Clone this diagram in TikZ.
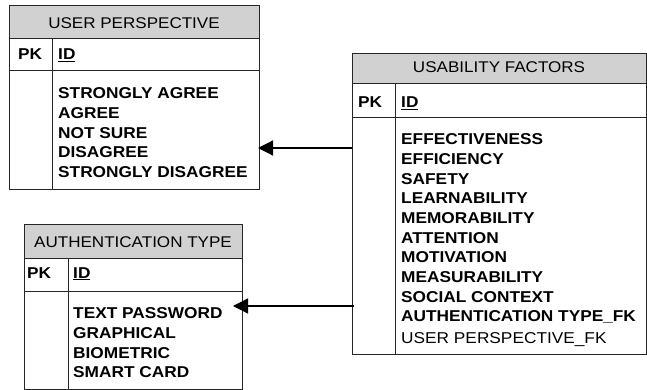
\documentclass[tikz,border=0pt]{standalone}
\usepackage{fontspec}
\setmainfont{Liberation Sans}[FakeStretch=1.1]
\usetikzlibrary{arrows.meta}
\tikzset{
  ent/.style={draw=black!85, line width=0.9pt, anchor=north west, inner sep=0pt},
  hdr/.style={draw=black!85, line width=0.9pt, fill=black!18},
  sep/.style={draw=black!85, line width=0.9pt},
  htext/.style={font=\fontsize{15.5}{18}\selectfont, anchor=base, inner sep=0pt},
  rtext/.style={font=\fontsize{15.7}{19.7}\selectfont\bfseries, anchor=base west, inner sep=0pt, align=left},
  ftext/.style={font=\fontsize{15.7}{19.7}\selectfont, anchor=base west, inner sep=0pt},
  rel/.style={line width=1.2pt, -{Triangle[length=15pt,width=15pt]}}
}
\begin{document}
\begin{tikzpicture}[x=1pt,y=-1pt]
\useasboundingbox (0,0) rectangle (647,390);
% USER PERSPECTIVE
\node[ent, minimum width=250pt, minimum height=184pt] (up) at (9,5) {};
\path[hdr] (9,5) rectangle (259,38);
\draw[sep] (9,70) -- (259,70);
\draw[sep] (52,38) -- (52,189);
\node[htext] (uph) at (134,29) {USER PERSPECTIVE};
\node[rtext] (uppk) at (18,60) {PK};
\node[rtext] (upid) at (58,60) {\underline{ID}};
\node[rtext, anchor=north west] (upr) at (58,87.5) {STRONGLY AGREE\\AGREE\\NOT SURE\\DISAGREE\\STRONGLY DISAGREE};
% USABILITY FACTORS
\node[ent, minimum width=294pt, minimum height=301pt] (uf) at (352,53) {};
\path[hdr] (352,53) rectangle (646,83);
\draw[sep] (352,117) -- (646,117);
\draw[sep] (395,83) -- (395,354);
\node[htext] (ufh) at (499,73) {USABILITY FACTORS};
\node[rtext] (ufpk) at (358,108) {PK};
\node[rtext] (ufid) at (401,108) {\underline{ID}};
\node[rtext, anchor=north west] (ufr) at (401,133.5) {EFFECTIVENESS\\EFFICIENCY\\SAFETY\\LEARNABILITY\\MEMORABILITY\\ATTENTION\\MOTIVATION\\MEASURABILITY\\SOCIAL CONTEXT\\AUTHENTICATION TYPE\_FK};
\node[ftext] (uffk) at (401,343) {USER PERSPECTIVE\_FK};
% AUTHENTICATION TYPE
\node[ent, minimum width=218pt, minimum height=165pt] (at) at (24,224) {};
\path[hdr] (24,224) rectangle (242,258);
\draw[sep] (24,291) -- (242,291);
\draw[sep] (68,258) -- (68,389);
\node[htext] (ath) at (133,247) {AUTHENTICATION TYPE};
\node[rtext] (atpk) at (27,278) {PK};
\node[rtext] (atid) at (73,278) {\underline{ID}};
\node[rtext, anchor=north west] (atr) at (73,307.5) {TEXT PASSWORD\\GRAPHICAL\\BIOMETRIC\\SMART CARD};
% relations
\coordinate (a1) at (258,148);
\coordinate (a2) at (233,306);
\draw[rel] (uf.west |- a1) -- (a1);
\draw[rel] ([xshift=2pt]uf.west |- a2) -- (a2);
\end{tikzpicture}
\end{document}
